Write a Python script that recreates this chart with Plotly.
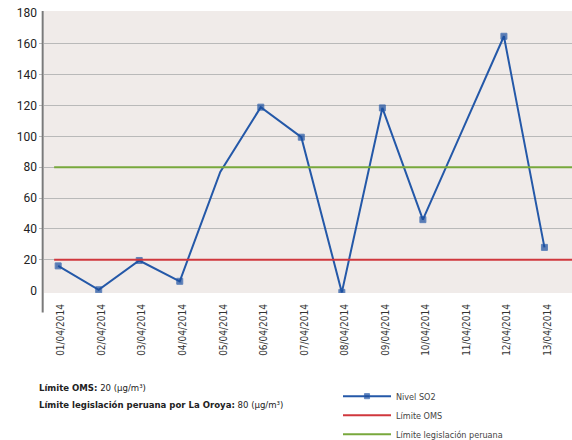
import plotly.graph_objects as go

dates = ["01/04/2014", "02/04/2014", "03/04/2014", "04/04/2014", "05/04/2014",
         "06/04/2014", "07/04/2014", "08/04/2014", "09/04/2014", "10/04/2014",
         "11/04/2014", "12/04/2014", "13/04/2014"]
so2 = [16, 0.5, 19.5, 6, 77, 119, 99.5, -1.2, 118.5, 46, 105.5, 165, 28]
marker_shown = [True, True, True, True, False, True, True, True, True, True, False, True, True]
oms_limit = 20
peru_limit = 80
y_ticks = [0, 20, 40, 60, 80, 100, 120, 140, 160, 180]

idx = list(range(len(dates)))
x_min, x_max = -0.35, 12.68
y_min, y_max = -1.6, 181.4

narrow = "Liberation Sans Narrow, DejaVu Sans Condensed, Roboto, sans-serif"

fig = go.Figure()
fig.add_trace(go.Scatter(
    x=idx, y=so2, mode="lines+markers", name="Nivel SO2",
    line=dict(color="#2458a8", width=2),
    marker=dict(symbol="square", color="#1a4d9e",
                size=[6 if s else 0 for s in marker_shown]),
))
fig.add_trace(go.Scatter(
    x=[-0.1, x_max], y=[oms_limit, oms_limit], mode="lines", name="Límite OMS",
    line=dict(color="#d0373d", width=2),
))
fig.add_trace(go.Scatter(
    x=[-0.1, x_max], y=[peru_limit, peru_limit], mode="lines",
    name="Límite legislación peruana",
    line=dict(color="#78a83c", width=2),
))
# invisible trace on y2 carrying the full tick labels
fig.add_trace(go.Scatter(x=[0], y=[0], yaxis="y2", mode="markers",
                         marker=dict(opacity=0), showlegend=False, hoverinfo="skip"))

fig.update_layout(
    width=572, height=440,
    margin=dict(l=44, r=0, t=11, b=147, autoexpand=False),
    paper_bgcolor="white",
    plot_bgcolor="#f0ebe9",
    showlegend=True,
    legend=dict(x=(338 - 44) / 528, y=(292.5 - 381) / 281.5, xanchor="left", yanchor="top",
                font=dict(family=narrow, size=9, color="#444444"),
                bgcolor="rgba(0,0,0,0)", itemwidth=48),
    xaxis=dict(range=[x_min, x_max], tickmode="array", tickvals=idx, ticktext=dates,
               tickangle=-90, showgrid=False, zeroline=False, showline=False,
               ticks="", tickfont=dict(family=narrow, size=10, color="#333333"),
               ticklabelstandoff=8, ticklabelshift=3, automargin=False),
    yaxis=dict(range=[y_min, y_max], tickmode="array", tickvals=y_ticks[1:-1],
               showticklabels=False, showgrid=True, gridcolor="#b9b9b9", gridwidth=1,
               zeroline=False, showline=False, ticks="outside", ticklen=4,
               tickcolor="#b9b9b9", automargin=False),
    yaxis2=dict(range=[y_min, y_max], overlaying="y", side="left", tickmode="array",
                tickvals=y_ticks, showgrid=False, zeroline=False, showline=False,
                ticks="", tickfont=dict(family="Roboto, sans-serif", size=12, color="#222222"),
                ticklabelstandoff=6, automargin=False),
    shapes=[dict(type="line", xref="paper", yref="paper", x0=-0.0025, x1=-0.0025,
                 y0=1, y1=(292.5 - 312) / 281.5, line=dict(color="#7a7a7a", width=2))],
    annotations=[
        dict(xref="paper", yref="paper", x=(37 - 44) / 528, y=(292.5 - 387) / 281.5,
             xanchor="left", yanchor="middle", showarrow=False,
             text="<b>Límite OMS:</b> 20 (µg/m³)",
             font=dict(family=narrow, size=9.5, color="#222222")),
        dict(xref="paper", yref="paper", x=(37 - 44) / 528, y=(292.5 - 404) / 281.5,
             xanchor="left", yanchor="middle", showarrow=False,
             text="<b>Límite legislación peruana por La Oroya:</b> 80 (µg/m³)",
             font=dict(family=narrow, size=9.5, color="#222222")),
    ],
)

fig.write_html("out.html", config={"displayModeBar": False},
               post_script="document.body.style.margin='0';document.body.style.overflow='hidden';")
